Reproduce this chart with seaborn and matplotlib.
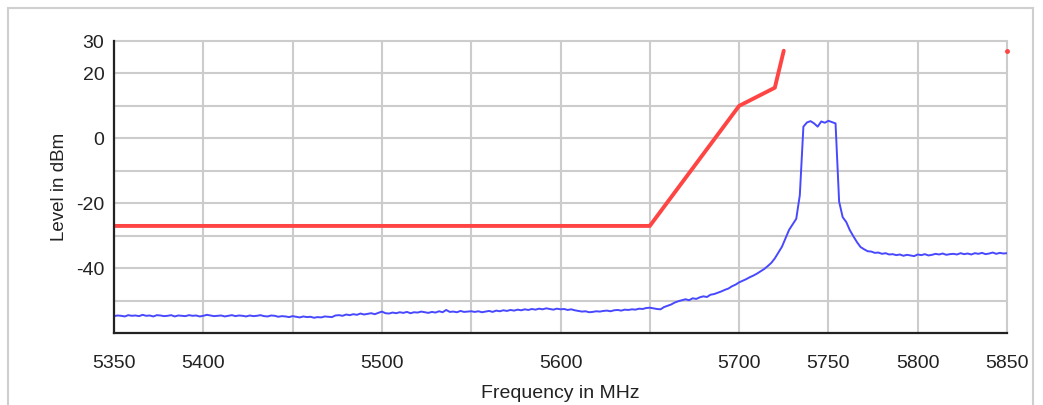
import numpy as np
import pandas as pd
import matplotlib
matplotlib.use("Agg")
import matplotlib.pyplot as plt
from matplotlib.patches import Rectangle
import seaborn as sns

# Measured spectrum, one sample every 2 MHz from 5350 to 5850 MHz
freq_mhz = np.arange(5350, 5851, 2)
level_dbm = [
    -54.8, -54.6, -54.7, -54.9, -54.5, -54.7, -54.6, -54.8, -54.4, -54.7,
    -54.6, -54.9, -54.5, -54.6, -54.8, -54.7, -54.5, -54.9, -54.6, -54.7,
    -54.8, -54.5, -54.7, -54.6, -54.9, -54.7, -54.4, -54.6, -54.8, -54.7,
    -54.6, -54.9, -54.7, -54.5, -54.8, -54.6, -54.7, -54.9, -54.6, -54.8,
    -54.7, -54.5, -54.8, -54.9, -54.6, -54.7, -55.0, -54.8, -54.9, -55.1,
    -54.8, -55.0, -55.2, -54.9, -55.1, -55.0,
    -55.3, -55.1, -55.2, -54.9, -55.0, -55.1, -54.6, -54.5, -54.7, -54.3,
    -54.5, -54.2, -54.4, -54.0, -54.3, -54.1, -53.9, -54.2, -53.8, -53.4,
    -53.9, -54.0, -53.7, -53.9, -53.6, -53.8, -53.5, -53.9, -53.6, -53.7,
    -53.4, -53.6, -53.8, -53.5, -53.7, -53.3, -53.6, -52.9, -53.5, -53.4,
    -53.6, -53.2, -53.5, -53.4, -53.3,
    -53.5, -53.3, -53.6, -53.4, -53.2, -53.5, -53.1, -53.3, -53.0, -53.2,
    -52.9, -53.1, -52.8, -53.0, -52.7, -52.9, -52.6, -52.8, -52.5, -52.7,
    -52.4, -52.6, -52.8, -52.5, -52.7,
    -52.6, -52.9, -52.7, -53.0, -53.2, -53.4, -53.3, -53.6, -53.5, -53.3,
    -53.4, -53.2, -53.1, -53.3, -53.0, -52.9, -53.1, -52.8, -52.9, -52.7,
    -52.8, -52.5, -52.6, -52.3, -52.2,
    -52.4, -52.6, -52.7, -52.0, -51.6, -51.2, -50.6, -50.2, -49.9, -49.6,
    -49.9, -49.3, -49.5, -49.0, -48.7, -48.9, -48.2, -48.0, -47.6, -47.2,
    -46.7, -46.3, -45.6, -45.1, -44.4,
    -43.9, -43.4, -42.8, -42.3, -41.7, -41.0, -40.3, -39.4, -38.4, -37.0,
    -35.2, -33.4, -30.8, -28.2, -26.5,
    -24.8, -17.5, 3.6, 4.9, 5.3, 4.6, 3.6, 5.2, 4.8, 5.4,
    5.0, 4.6, -19.5, -24.3, -25.8,
    -28.3, -30.2, -32.0, -33.5, -34.2, -34.8, -34.9, -35.3, -35.2, -35.6,
    -35.4, -35.8, -35.7, -36.0, -35.8, -36.2, -35.9, -36.1, -36.3, -35.8,
    -36.0, -35.7, -36.1, -35.9, -35.6, -35.8, -35.5, -35.9, -35.7, -35.6,
    -35.8, -35.4, -35.7, -35.5, -35.8, -35.4, -35.6, -35.3, -35.7, -35.5,
    -35.2, -35.6, -35.3, -35.5, -35.4,
]

# Emission mask
mask_freq = [5350, 5650, 5700, 5720, 5725]
mask_level = [-27, -27, 10, 15.6, 27]
mask_dot_freq = [5850]
mask_dot_level = [27]

x_ticks = [5350, 5400, 5450, 5500, 5550, 5600, 5650, 5700, 5750, 5800, 5850]
x_labels = ["5350", "5400", "", "5500", "", "5600", "", "5700", "5750", "5800", "5850"]
y_ticks = [-50, -40, -30, -20, -10, 0, 10, 20, 30]
y_labels = ["", "-40", "", "-20", "", "0", "", "20", "30"]

spec = pd.DataFrame({"freq": freq_mhz, "level": level_dbm})
mask = pd.DataFrame({"freq": mask_freq, "level": mask_level})

sns.set_style("white")
plt.rcParams["font.family"] = ["Liberation Sans", "DejaVu Sans"]

fig = plt.figure(figsize=(10.43, 4.05), dpi=100)
ax = fig.add_axes([114 / 1043, 1 - 333 / 405, (1007 - 114) / 1043, (333 - 41) / 405])

sns.lineplot(data=spec, x="freq", y="level", ax=ax, color="#4848ff", linewidth=1.4)
sns.lineplot(data=mask, x="freq", y="level", ax=ax, color="#ff4444", linewidth=2.8,
             solid_capstyle="round")
ax.plot(mask_dot_freq, mask_dot_level, "o", color="#ff4444", markersize=2.5, clip_on=False)

ax.set_xlim(5350, 5850)
ax.set_ylim(-60, 30)
ax.set_xticks(x_ticks)
ax.set_xticklabels(x_labels)
ax.set_yticks(y_ticks)
ax.set_yticklabels(y_labels)

ax.grid(True, color="#cccccc", linewidth=1.5)
ax.set_axisbelow(True)
for gl in ax.get_xgridlines() + ax.get_ygridlines():
    gl.set_clip_on(False)

sns.despine(ax=ax)
for side in ["left", "bottom"]:
    ax.spines[side].set_color("#222222")
    ax.spines[side].set_linewidth(1.6)

ax.tick_params(axis="both", direction="inout", length=10, width=1.4, colors="#222222",
               labelsize=14, labelcolor="#222222")
ax.tick_params(axis="x", pad=11)
ax.tick_params(axis="y", pad=2)

ax.set_xlabel("Frequency in MHz", fontsize=14, color="#222222", labelpad=9)
ax.set_ylabel("Level in dBm", fontsize=13.5, color="#222222", labelpad=6)

fig.add_artist(Rectangle((8 / 1043, -0.05), (1033 - 8) / 1043, 1 - 8 / 405 + 0.05,
                         transform=fig.transFigure, fill=False, edgecolor="#cfcfcf",
                         linewidth=1.5))

fig.savefig("out.png", dpi=100)
